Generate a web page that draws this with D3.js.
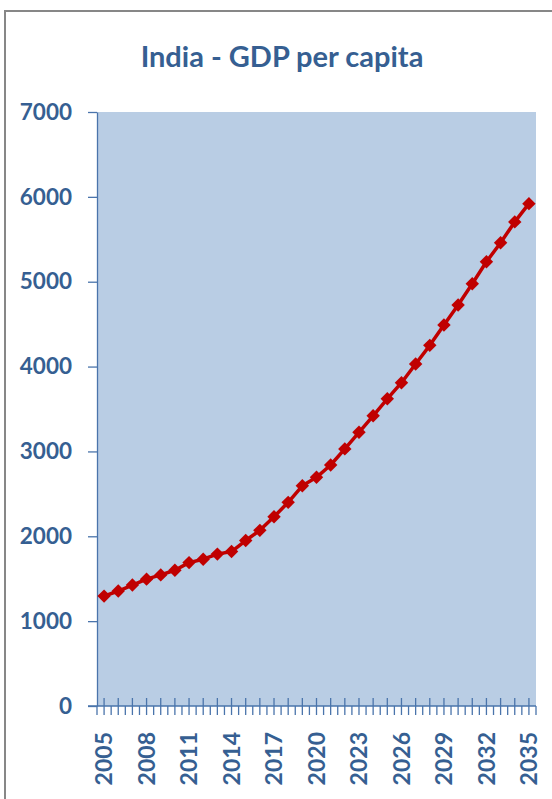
<!DOCTYPE html>
<html>
<head>
<meta charset="utf-8">
<script src="https://cdn.jsdelivr.net/npm/d3@7"></script>
<style>
  html, body { margin: 0; padding: 0; background: #ffffff; }
  svg { display: block; }
  text { font-family: Lato, "Open Sans", sans-serif; font-weight: bold; }
</style>
</head>
<body>
<script>
// GDP per capita (USD) by year
const years = [2005, 2006, 2007, 2008, 2009, 2010, 2011, 2012, 2013, 2014,
               2015, 2016, 2017, 2018, 2019, 2020, 2021, 2022, 2023, 2024,
               2025, 2026, 2027, 2028, 2029, 2030, 2031, 2032, 2033, 2034, 2035];
const gdpPerCapita = [1295, 1355, 1425, 1495, 1545, 1600, 1690, 1730, 1790, 1820,
                      1950, 2070, 2230, 2400, 2595, 2695, 2840, 3030, 3225, 3420,
                      3620, 3810, 4030, 4250, 4490, 4725, 4975, 5235, 5460, 5705, 5920];
const yTicks = [0, 1000, 2000, 3000, 4000, 5000, 6000, 7000];
const labelYears = [2005, 2008, 2011, 2014, 2017, 2020, 2023, 2026, 2029, 2032, 2035];
const chartTitle = "India - GDP per capita";

const W = 552, H = 799;
const plot = { left: 97, right: 536, top: 112, bottom: 706 };
const textColor = "#365f92";
const axisColor = "#4a74ab";
const lineColor = "#c00000";

const svg = d3.select("body").append("svg")
  .attr("width", W).attr("height", H);

// chart frame
svg.append("rect")
  .attr("x", 5).attr("y", 11)
  .attr("width", 600).attr("height", 850)
  .attr("fill", "#ffffff")
  .attr("stroke", "#878787").attr("stroke-width", 2);

const x = d3.scaleBand().domain(years).range([plot.left, plot.right]).padding(0);
const y = d3.scaleLinear().domain([0, 7000]).range([plot.bottom, plot.top]);

// plot area
svg.append("rect")
  .attr("x", plot.left).attr("y", plot.top)
  .attr("width", plot.right - plot.left).attr("height", plot.bottom - plot.top)
  .attr("fill", "#b9cde4");

// title
svg.append("text")
  .attr("x", 282).attr("y", 67)
  .attr("text-anchor", "middle")
  .attr("fill", textColor)
  .attr("font-size", 29)
  .text(chartTitle);

// y axis
const yAxis = svg.append("g")
  .attr("transform", `translate(${plot.left},0)`)
  .call(d3.axisLeft(y).tickValues(yTicks).tickSize(9).tickSizeOuter(0).tickPadding(16)
        .tickFormat(d3.format("d")));
yAxis.select(".domain").attr("stroke", axisColor).attr("stroke-width", 1.3);
yAxis.selectAll(".tick line").attr("stroke", axisColor).attr("stroke-width", 1.3);
yAxis.selectAll(".tick text")
  .attr("fill", textColor)
  .attr("font-size", 22.5)
  .attr("font-family", "Lato, sans-serif")
  .attr("font-weight", "bold");

// x axis line
const xAxis = svg.append("g");
xAxis.append("line")
  .attr("x1", plot.left - 9).attr("x2", plot.right)
  .attr("y1", plot.bottom).attr("y2", plot.bottom)
  .attr("stroke", axisColor).attr("stroke-width", 1.3);

// ticks at category boundaries (below the axis)
const bounds = years.map(d => x(d)).concat([x(years[years.length - 1]) + x.bandwidth()]);
xAxis.selectAll("line.bound").data(bounds).join("line")
  .attr("class", "bound")
  .attr("x1", d => d).attr("x2", d => d)
  .attr("y1", plot.bottom).attr("y2", plot.bottom + 9)
  .attr("stroke", axisColor).attr("stroke-width", 1.3);

// ticks at category centres (crossing the axis)
xAxis.selectAll("line.mid").data(years).join("line")
  .attr("class", "mid")
  .attr("x1", d => x(d) + x.bandwidth() / 2).attr("x2", d => x(d) + x.bandwidth() / 2)
  .attr("y1", plot.bottom - 8).attr("y2", plot.bottom + 9)
  .attr("stroke", axisColor).attr("stroke-width", 1.3);

// rotated year labels
xAxis.selectAll("text.year").data(labelYears).join("text")
  .attr("class", "year")
  .attr("transform", d => `translate(${x(d) + x.bandwidth() / 2},732) rotate(-90)`)
  .attr("text-anchor", "end")
  .attr("dy", "0.36em")
  .attr("fill", textColor)
  .attr("font-size", 23)
  .text(d => d);

// series line
const line = d3.line()
  .x((d, i) => x(years[i]) + x.bandwidth() / 2)
  .y(d => y(d));

svg.append("path")
  .datum(gdpPerCapita)
  .attr("d", line)
  .attr("fill", "none")
  .attr("stroke", lineColor)
  .attr("stroke-width", 3.5)
  .attr("stroke-linejoin", "round");

// diamond markers
const diamond = d3.symbol().type(d3.symbolDiamond2).size(115);
svg.selectAll("path.marker").data(gdpPerCapita).join("path")
  .attr("class", "marker")
  .attr("d", diamond)
  .attr("transform", (d, i) => `translate(${x(years[i]) + x.bandwidth() / 2},${y(d)})`)
  .attr("fill", lineColor);
</script>
</body>
</html>
